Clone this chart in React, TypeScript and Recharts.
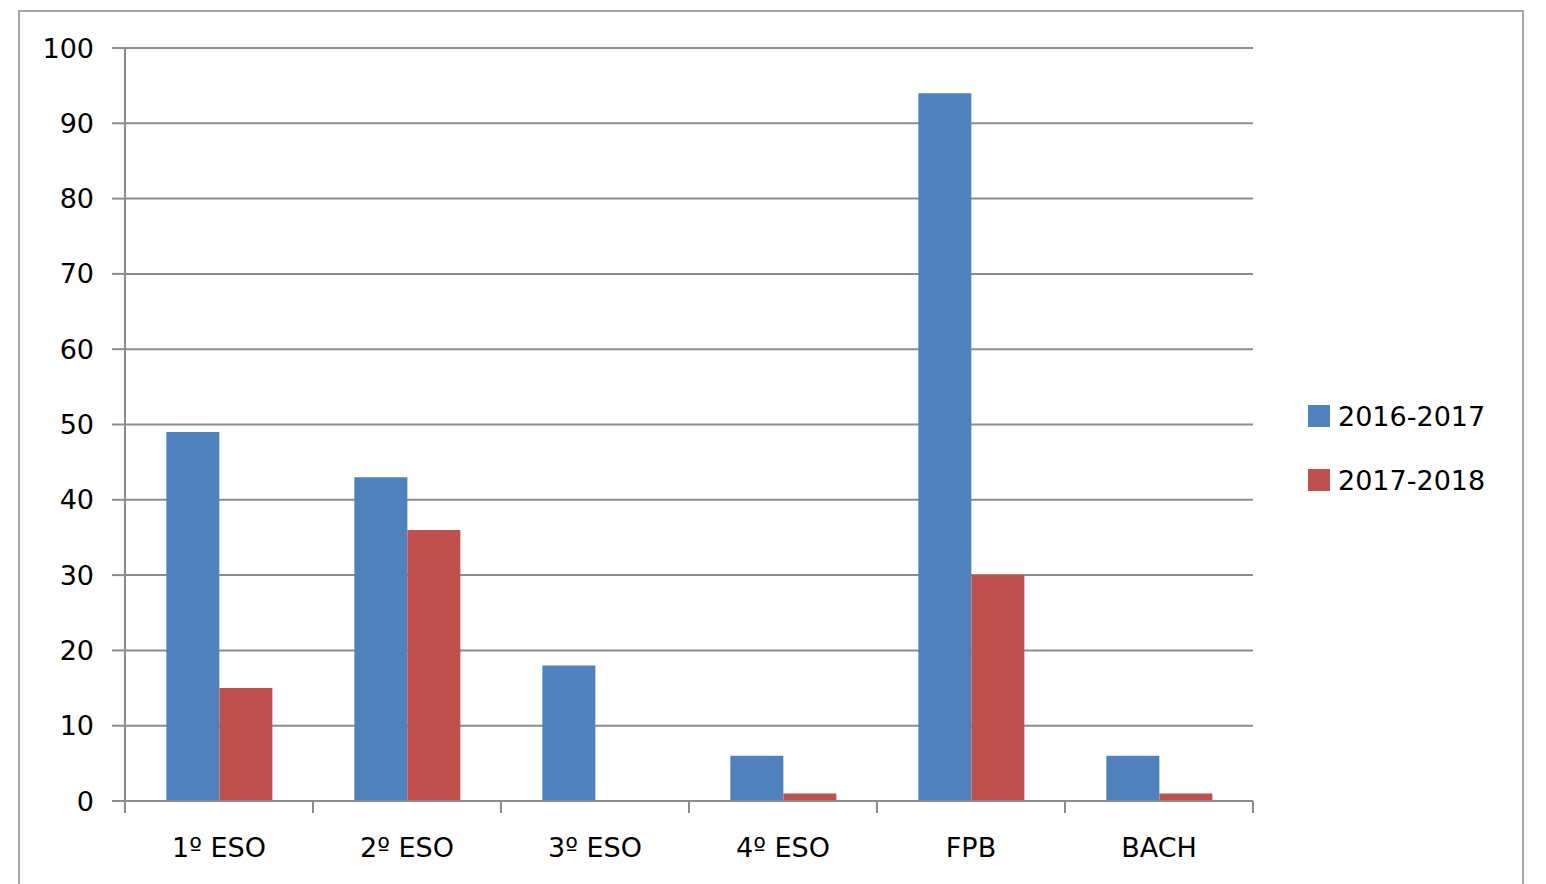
import React from "react";
import { BarChart, Bar, XAxis, YAxis, CartesianGrid, Legend } from "recharts";

// Data
const categories = ["1º ESO", "2º ESO", "3º ESO", "4º ESO", "FPB", "BACH"];
const series2016 = [49, 43, 18, 6, 94, 6];
const series2017 = [15, 36, 0, 1, 30, 1];
const yTicks = [0, 10, 20, 30, 40, 50, 60, 70, 80, 90, 100];

const data = categories.map((name, i) => ({
  name,
  "2016-2017": series2016[i],
  "2017-2018": series2017[i],
}));

const BLUE = "#4F81BD";
const RED = "#C0504D";
const LINE = "#8c8c8c";
const FONT = "'DejaVu Sans', sans-serif";

function CategoryTick(props: any) {
  const { x, y, payload, index } = props;
  const off = payload?.offset ?? 0;
  const last = index === categories.length - 1;
  return (
    <g>
      <line x1={x - off} x2={x - off} y1={y} y2={y + 12} stroke={LINE} strokeWidth={2} />
      {last && (
        <line x1={x + off} x2={x + off} y1={y} y2={y + 12} stroke={LINE} strokeWidth={2} />
      )}
      <text x={x} y={y + 56} textAnchor="middle" fontSize={27} fontFamily={FONT} fill="#000">
        {payload.value}
      </text>
    </g>
  );
}

function LegendBox(props: any) {
  const { payload } = props;
  return (
    <div style={{ fontFamily: FONT, fontSize: 27, color: "#000" }}>
      {(payload || []).map((p: any) => (
        <div key={p.value} style={{ display: "flex", alignItems: "center", height: 64 }}>
          <span
            style={{ width: 22, height: 22, background: p.color, display: "inline-block", marginRight: 8 }}
          />
          <span>{p.value}</span>
        </div>
      ))}
    </div>
  );
}

export default function App() {
  return (
    <div
      style={{
        position: "absolute",
        left: 0,
        top: 0,
        width: 1546,
        height: 884,
        overflow: "hidden",
        background: "#fff",
      }}
    >
      {/* outer chart frame */}
      <div
        style={{
          position: "absolute",
          left: 18,
          top: 10,
          width: 1506,
          height: 900,
          border: "2px solid #a6a6a6",
          boxSizing: "border-box",
        }}
      />
      <div style={{ position: "absolute", left: 0, top: 0 }}>
        <BarChart
          width={1546}
          height={884}
          data={data}
          margin={{ top: 48, right: 73, bottom: 23, left: 0 }}
          barCategoryGap="22%"
          barGap={0}
        >
          <CartesianGrid vertical={false} stroke={LINE} strokeWidth={2} />
          <XAxis
            dataKey="name"
            height={60}
            axisLine={{ stroke: LINE, strokeWidth: 2 }}
            tickLine={false}
            tickSize={0}
            tickMargin={0}
            interval={0}
            tick={<CategoryTick />}
          />
          <YAxis
            width={125}
            domain={[0, 100]}
            ticks={yTicks}
            interval={0}
            axisLine={{ stroke: LINE, strokeWidth: 2 }}
            tickLine={{ stroke: LINE, strokeWidth: 2 }}
            tickSize={13}
            tickMargin={18}
            tick={{ fontSize: 27, fontFamily: FONT, fill: "#000" }}
          />
          <Legend
            layout="vertical"
            align="right"
            verticalAlign="top"
            content={<LegendBox />}
            wrapperStyle={{ left: 1308, top: 384, width: 220 }}
          />
          <Bar dataKey="2016-2017" fill={BLUE} isAnimationActive={false} />
          <Bar dataKey="2017-2018" fill={RED} isAnimationActive={false} />
        </BarChart>
      </div>
    </div>
  );
}
